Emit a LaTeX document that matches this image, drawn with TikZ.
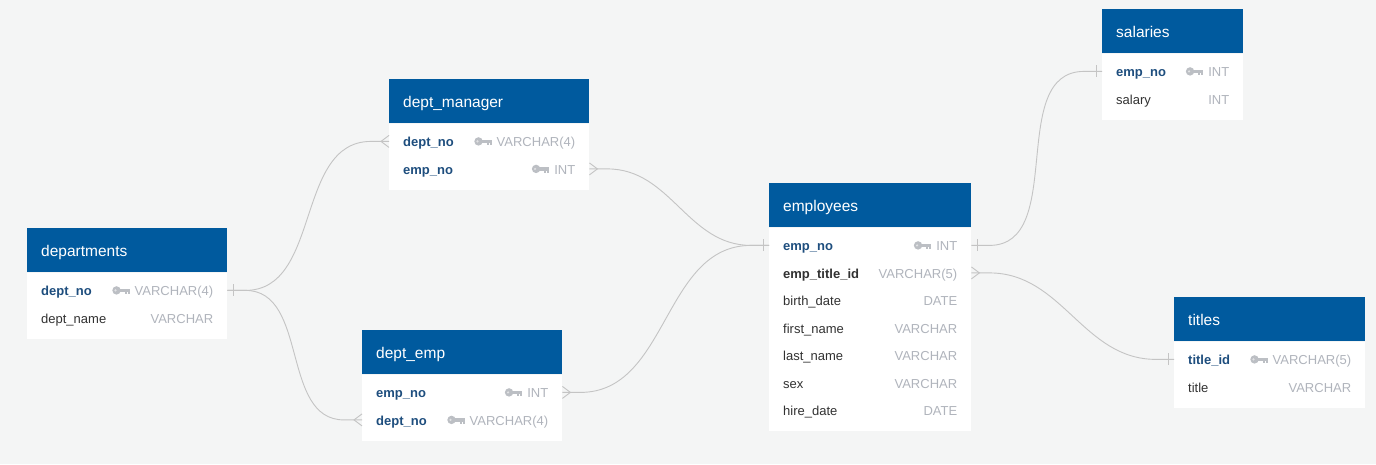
\documentclass[tikz,border=0pt]{standalone}
\usepackage{fontspec}
\setmainfont{Liberation Sans}
\usepackage{tikz}
\usetikzlibrary{positioning,calc}
\definecolor{bg}{RGB}{244,245,245}
\definecolor{hdblue}{RGB}{0,90,158}
\definecolor{pkblue}{RGB}{30,78,126}
\definecolor{txtdark}{RGB}{50,50,50}
\definecolor{typgrey}{RGB}{176,180,188}
\definecolor{keygrey}{RGB}{188,191,196}
\definecolor{relgrey}{RGB}{196,196,196}
\tikzset{
	head/.style={anchor=north west,fill=hdblue,text=white,inner xsep=14pt,inner ysep=0pt,
		minimum height=44pt,align=left,text height=14pt,text depth=1pt,font=\fontsize{15.5}{18}\selectfont},
	body/.style={anchor=north west,fill=white,inner sep=0pt},
	fld/.style={anchor=west,inner sep=0pt,text height=12pt,text depth=1pt,text=txtdark,font=\fontsize{13}{16}\selectfont},
	pkf/.style={fld,text=pkblue,font=\fontsize{13}{16}\selectfont\bfseries},
	fkf/.style={fld,font=\fontsize{13}{16}\selectfont\bfseries},
	typ/.style={anchor=east,inner sep=0pt,text height=12pt,text depth=1pt,text=typgrey,font=\fontsize{13}{16}\selectfont},
	rel/.style={draw=relgrey,line width=0.9pt},
	keyic/.pic={
		\fill[keygrey] (-13,0) circle (4.2pt);
		\fill[keygrey] (-10,-1.8) rectangle (0,1.8);
		\fill[keygrey] (-4.6,1.8) rectangle (-3,4);
		\fill[keygrey] (-1.8,1.8) rectangle (0,4);
		\fill[white!55!keygrey] (-14,0) circle (1.2pt);
	},
	onemark/.pic={\draw[rel] (6,-6) -- (6,6);},
	manymark/.pic={\draw[rel] (0,-6) -- (8,0) -- (0,6);}
}

\begin{document}
\begin{tikzpicture}[x=1pt,y=-1pt]
	
	\fill[bg] (0,0) rectangle (1376,464);
	\useasboundingbox (0,0) rectangle (1376,464);
	
	%departments
	\node[head,text width=172pt] (dep) at (27,228) {departments};
	\node[body,minimum width=200pt,minimum height=66pt] (dep-b) at (dep.south west) {};
	\foreach \f/\t/\s [count=\i] in {dept\_no/VARCHAR(4)/pkf,dept\_name/VARCHAR/fld} {
		\node[\s] (dep-\i) at ($(dep.south west)+(14,{18+27.5*(\i-1)})$) {\f};
		\node[typ] (dep-t\i) at ($(dep.south east)+(-14,{18+27.5*(\i-1)})$) {\t};
	}
	
	%dept_manager
	\node[head,text width=172pt] (dm) at (389,79) {dept\_manager};
	\node[body,minimum width=200pt,minimum height=66pt] (dm-b) at (dm.south west) {};
	\foreach \f/\t/\s [count=\i] in {dept\_no/VARCHAR(4)/pkf,emp\_no/INT/pkf} {
		\node[\s] (dm-\i) at ($(dm.south west)+(14,{18+27.5*(\i-1)})$) {\f};
		\node[typ] (dm-t\i) at ($(dm.south east)+(-14,{18+27.5*(\i-1)})$) {\t};
	}
	
	%dept_emp
	\node[head,text width=172pt] (de) at (362,330) {dept\_emp};
	\node[body,minimum width=200pt,minimum height=66pt] (de-b) at (de.south west) {};
	\foreach \f/\t/\s [count=\i] in {emp\_no/INT/pkf,dept\_no/VARCHAR(4)/pkf} {
		\node[\s] (de-\i) at ($(de.south west)+(14,{18+27.5*(\i-1)})$) {\f};
		\node[typ] (de-t\i) at ($(de.south east)+(-14,{18+27.5*(\i-1)})$) {\t};
	}
	
	%employees
	\node[head,text width=174pt] (emp) at (769,183) {employees};
	\node[body,minimum width=202pt,minimum height=203pt] (emp-b) at (emp.south west) {};
	\foreach \f/\t/\s [count=\i] in {emp\_no/INT/pkf,emp\_title\_id/VARCHAR(5)/fkf,birth\_date/DATE/fld,
		first\_name/VARCHAR/fld,last\_name/VARCHAR/fld,sex/VARCHAR/fld,hire\_date/DATE/fld} {
		\node[\s] (emp-\i) at ($(emp.south west)+(14,{18+27.5*(\i-1)})$) {\f};
		\node[typ] (emp-t\i) at ($(emp.south east)+(-14,{18+27.5*(\i-1)})$) {\t};
	}
	
	%salaries
	\node[head,text width=113pt] (sal) at (1102,9) {salaries};
	\node[body,minimum width=141pt,minimum height=66pt] (sal-b) at (sal.south west) {};
	\foreach \f/\t/\s [count=\i] in {emp\_no/INT/pkf,salary/INT/fld} {
		\node[\s] (sal-\i) at ($(sal.south west)+(14,{18+27.5*(\i-1)})$) {\f};
		\node[typ] (sal-t\i) at ($(sal.south east)+(-14,{18+27.5*(\i-1)})$) {\t};
	}
	
	%titles
	\node[head,text width=163pt] (tit) at (1174,297) {titles};
	\node[body,minimum width=191pt,minimum height=66pt] (tit-b) at (tit.south west) {};
	\foreach \f/\t/\s [count=\i] in {title\_id/VARCHAR(5)/pkf,title/VARCHAR/fld} {
		\node[\s] (tit-\i) at ($(tit.south west)+(14,{18+27.5*(\i-1)})$) {\f};
		\node[typ] (tit-t\i) at ($(tit.south east)+(-14,{18+27.5*(\i-1)})$) {\t};
	}
	
	%Cles
	\foreach \k in {dep-t1,dm-t1,dm-t2,de-t1,de-t2,emp-t1,sal-t1,tit-t1}
		\pic at ($(\k.west)+(-5,0)$) {keyic};
	
	%Ports
	\coordinate (dep-p1) at (dep-b.east |- dep-1);
	\coordinate (dm-p1l) at (dm-b.west |- dm-1);
	\coordinate (dm-p2r) at (dm-b.east |- dm-2);
	\coordinate (de-p1r) at (de-b.east |- de-1);
	\coordinate (de-p2l) at (de-b.west |- de-2);
	\coordinate (emp-p1l) at (emp-b.west |- emp-1);
	\coordinate (emp-p1r) at (emp-b.east |- emp-1);
	\coordinate (emp-p2r) at (emp-b.east |- emp-2);
	\coordinate (sal-p1l) at (sal-b.west |- sal-1);
	\coordinate (tit-p1l) at (tit-b.west |- tit-1);
	
	%Relations
	\foreach \a/\b in {dep-p1/dm-p1l,dep-p1/de-p2l,dm-p2r/emp-p1l,de-p1r/emp-p1l,emp-p1r/sal-p1l,emp-p2r/tit-p1l}
		\draw[rel] (\a) -- ++(18,0) to[out=0,in=180] ($(\b)+(-18,0)$) -- (\b);
	
	\foreach \p in {dep-p1,emp-p1r} \pic at (\p) {onemark};
	\foreach \p in {emp-p1l,sal-p1l,tit-p1l} \pic[xscale=-1] at (\p) {onemark};
	\foreach \p in {dm-p2r,de-p1r,emp-p2r} \pic at (\p) {manymark};
	\foreach \p in {dm-p1l,de-p2l} \pic[xscale=-1] at (\p) {manymark};
	
\end{tikzpicture}
\end{document}
